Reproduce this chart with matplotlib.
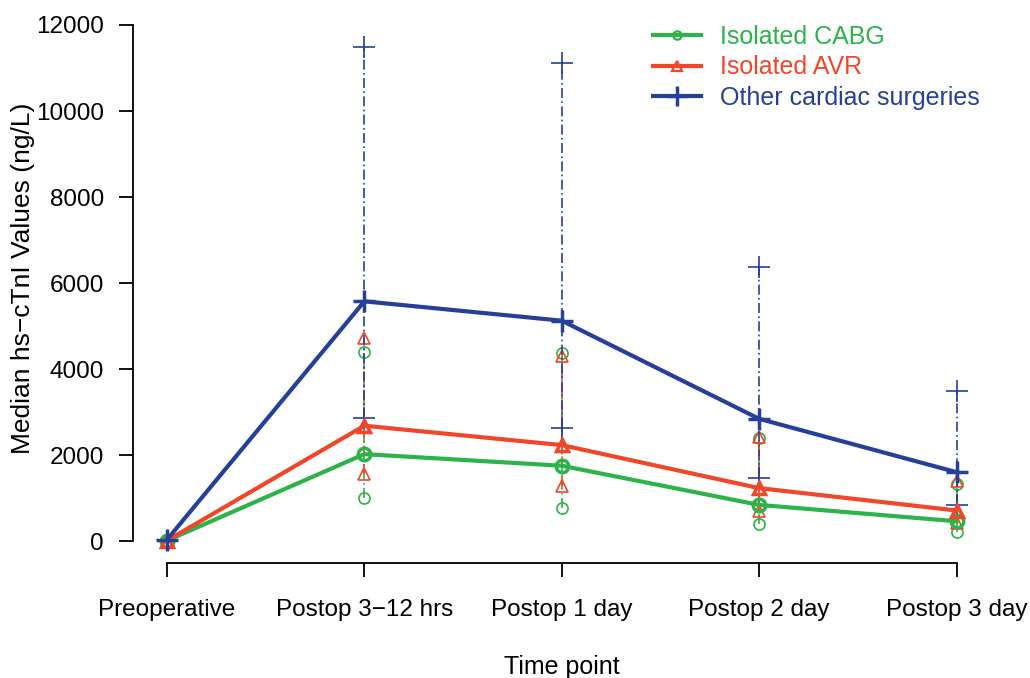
import numpy as np
import matplotlib
matplotlib.use("Agg")
import matplotlib.pyplot as plt
from matplotlib.lines import Line2D

plt.rcParams['font.family'] = ['Liberation Sans', 'DejaVu Sans']

# Time points on the x axis
time_points = ["Preoperative", "Postop 3\u221212 hrs", "Postop 1 day", "Postop 2 day", "Postop 3 day"]

# Median and interquartile range (ng/L) per group
cabg_median = [20, 2030, 1760, 850, 470]
cabg_low = [10, 1000, 770, 400, 210]
cabg_high = [40, 4410, 4370, 2400, 1330]

avr_median = [20, 2690, 2240, 1240, 720]
avr_low = [10, 1560, 1280, 700, 420]
avr_high = [40, 4720, 4320, 2430, 1400]

other_median = [40, 5580, 5130, 2850, 1610]
other_low = [10, 2870, 2640, 1470, 840]
other_high = [80, 11480, 11120, 6380, 3500]

labels = ["Isolated CABG", "Isolated AVR", "Other cardiac surgeries"]
colors = ["#2DB34A", "#F0462A", "#26409A"]
markers = ["o", "^", "+"]

fig = plt.figure(figsize=(10.30, 6.78), dpi=100)
ax = fig.add_axes([0.1291, 0.1696, 0.8456, 0.824])

x = np.arange(len(time_points))
series = [
    (cabg_median, cabg_low, cabg_high),
    (avr_median, avr_low, avr_high),
    (other_median, other_low, other_high),
]

# IQR bars: dash-dot line with the group's symbol at each end
for (med, lo, hi), c, m in zip(series, colors, markers):
    for xi in x[1:]:
        ax.plot([xi, xi], [lo[xi], hi[xi]], color=c, lw=1.2, ls=(0, (6, 2, 1, 2)), zorder=2)
    ms = 16 if m == "+" else 8
    ax.plot(x[1:], np.array(lo)[1:], ls="none", marker=m, ms=ms, mfc="none", mec=c, mew=1.2, zorder=2)
    ax.plot(x[1:], np.array(hi)[1:], ls="none", marker=m, ms=ms, mfc="none", mec=c, mew=1.2, zorder=2)

for (med, lo, hi), c, m, lab in zip(series, colors, markers, labels):
    ms = 16 if m == "+" else 9
    ax.plot(x, med, color=c, lw=3, marker=m, ms=ms, mfc="none", mec=c, mew=2.5, zorder=3, label=lab)

ax.set_xlim(-0.172, 4.24)
ax.set_ylim(-500, 12480)
ax.set_yticks(np.arange(0, 12001, 2000))
ax.set_xticks(x)
ax.set_xticklabels(time_points)

for s in ["top", "right"]:
    ax.spines[s].set_visible(False)
ax.spines["left"].set_bounds(0, 12000)
ax.spines["bottom"].set_bounds(0, 4)
ax.tick_params(axis="both", labelsize=17.5, length=10, width=1.3, direction="out")
ax.tick_params(axis="x", pad=16)
ax.tick_params(axis="y", pad=11)
for s in ["left", "bottom"]:
    ax.spines[s].set_linewidth(1.3)

ax.set_xlabel("Time point", fontsize=18)
ax.xaxis.set_label_coords(0.4925, -0.164)
ax.set_ylabel("Median hs\u2212cTnI Values (ng/L)", fontsize=19)
ax.yaxis.set_label_coords(-0.113, 0.51)

leg_handles = [
    Line2D([], [], color=colors[0], lw=3, marker="o", ms=6, mfc="none", mec=colors[0], mew=1.6),
    Line2D([], [], color=colors[1], lw=3, marker="^", ms=7, mfc="none", mec=colors[1], mew=1.6),
    Line2D([], [], color=colors[2], lw=3, marker="+", ms=14, mfc="none", mec=colors[2], mew=2.5),
]
leg = fig.legend(handles=leg_handles, labels=labels, loc="upper left",
                 bbox_to_anchor=(653 / 1030, 1 - 25 / 678),
                 bbox_transform=fig.transFigure, frameon=False, fontsize=18,
                 handlelength=1.9, handletextpad=0.8, labelspacing=0.25,
                 borderpad=0, borderaxespad=0)
for t, c in zip(leg.get_texts(), colors):
    t.set_color(c)

fig.savefig("out.png", dpi=100)
